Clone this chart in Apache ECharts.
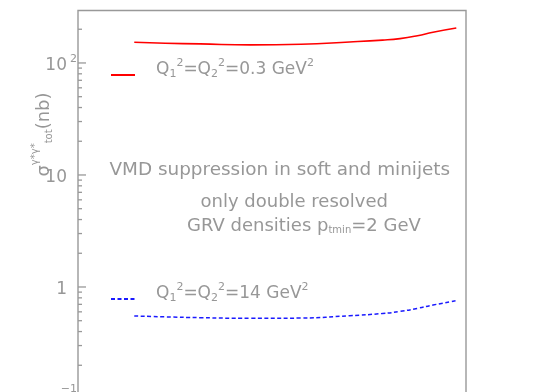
<!DOCTYPE html>
<html>
<head>
<meta charset="utf-8">
<script src="https://cdn.jsdelivr.net/npm/echarts@6/dist/echarts.min.js"></script>
<style>
html,body{margin:0;padding:0;background:#fff;}
#chart{width:545px;height:392px;}
</style>
</head>
<body>
<div id="chart"></div>
<script>
// ---- data ----
const xValues = [29, 45, 63, 89, 115, 140, 157, 166, 175, 183, 195];
const sigmaLowQ = [153, 150, 148, 145, 147, 154, 160, 165, 175, 188, 205];
const sigmaHighQ = [0.551, 0.541, 0.532, 0.525, 0.528, 0.554, 0.580, 0.605, 0.645, 0.690, 0.755];
const seriesNames = ['Q1^2=Q2^2=0.3 GeV^2', 'Q1^2=Q2^2=14 GeV^2'];
const yTickValues = [0.1, 0.2, 0.3, 0.4, 0.5, 0.6, 0.7, 0.8, 0.9,
                     1, 2, 3, 4, 5, 6, 7, 8, 9,
                     10, 20, 30, 40, 50, 60, 70, 80, 90,
                     100, 200];
const yMajorLabels = {'0.1': '{b|10}{sm|−1}', '1': '{b|1}{gap|}', '10': '{b|10}{gap|}', '100': '{b|10}{sp|2}'};
const xMin = 0, xMax = 200, yMin = 0.1, yMax = 294;

const GRAY = '#999999';
const TXT = '#979797';
const FONT = 'DejaVu Sans';

function isPow10(v) {
  const l = Math.log10(v);
  return Math.abs(l - Math.round(l)) < 1e-6;
}
function zip(xs, ys) { return xs.map((x, i) => [x, ys[i]]); }

const legendRich = {
  n: {fontFamily: FONT, fontSize: 17, color: TXT, lineHeight: 17},
  sb: {fontFamily: FONT, fontSize: 11, color: TXT, lineHeight: 11, padding: [8, 0, 0, 0]},
  sp: {fontFamily: FONT, fontSize: 11, color: TXT, lineHeight: 11, padding: [0, 0, 13, 0]}
};
function legendLabel(name) {
  const m = name.match(/^Q1\^2=Q2\^2=(.*) GeV\^2$/);
  return '{n|Q}{sb|1}{sp|2}{n|=Q}{sb|2}{sp|2}{n|=' + m[1] + ' GeV}{sp|2}';
}

const chart = echarts.init(document.getElementById('chart'), null, {renderer: 'canvas'});

const legendCommon = {
  left: 110, padding: 0, itemWidth: 24, itemHeight: 14,
  formatter: legendLabel,
  itemStyle: {opacity: 0},
  textStyle: {padding: [0, 0, 10, 16], rich: legendRich}
};

const option = {
  animation: false,
  backgroundColor: '#fff',
  grid: {left: 78, top: 10.5, right: 79, bottom: -7, show: true, borderColor: GRAY, borderWidth: 1.4,
         containLabel: false, outerBoundsMode: 'none'},
  xAxis: {
    type: 'value', min: xMin, max: xMax,
    axisLine: {show: false}, axisTick: {show: false}, axisLabel: {show: false}, splitLine: {show: false}
  },
  yAxis: {
    type: 'log', min: yMin, max: yMax, logBase: 10, splitNumber: 3,
    axisLine: {show: false}, axisTick: {show: false}, splitLine: {show: false}, minorTick: {show: false},
    axisLabel: {
      show: true, margin: 1, align: 'right', verticalAlign: 'middle',
      showMinLabel: true, showMaxLabel: true,
      formatter: function (v) {
        if (!isPow10(v)) return '';
        const key = String(Math.round(Math.log10(v)) === -1 ? 0.1 : Math.round(v));
        return yMajorLabels[key] || '';
      },
      rich: {
        b: {fontFamily: FONT, fontSize: 17, color: TXT, lineHeight: 17, padding: [6, 0, 0, 0]},
        sp: {fontFamily: FONT, fontSize: 11, color: TXT, lineHeight: 11, padding: [0, 0, 7, 3]},
        sm: {fontFamily: FONT, fontSize: 11, color: TXT, lineHeight: 11, padding: [0, 0, 20, 0]},
        gap: {width: 10}
      }
    }
  },
  legend: [
    Object.assign({data: [seriesNames[0]], top: 58}, legendCommon),
    Object.assign({data: [seriesNames[1]], top: 282}, legendCommon)
  ],
  graphic: [
    {
      type: 'text', x: 44, y: 134.5, rotation: Math.PI / 2,
      style: {
        text: '{s|σ}{sp|γ*γ*}{sb|tot}{n|(nb)}',
        align: 'center', verticalAlign: 'middle',
        rich: {
          s: {fontFamily: FONT, fontSize: 18, fill: TXT, lineHeight: 18},
          sp: {fontFamily: FONT, fontSize: 10, fill: TXT, lineHeight: 10, padding: [0, 0, 17, 0]},
          sb: {fontFamily: FONT, fontSize: 10, fill: TXT, lineHeight: 10, padding: [11, 0, 0, 0]},
          n: {fontFamily: FONT, fontSize: 18, fill: TXT, lineHeight: 18}
        }
      }
    },
    {
      type: 'text', x: 109.5, y: 170,
      style: {text: 'VMD suppression in soft and minijets', font: '18.4px "DejaVu Sans"', fill: TXT, align: 'left', verticalAlign: 'middle'}
    },
    {
      type: 'text', x: 200.5, y: 202,
      style: {text: 'only double resolved', font: '18px "DejaVu Sans"', fill: TXT, align: 'left', verticalAlign: 'middle'}
    },
    {
      type: 'text', x: 187, y: 226.5,
      style: {
        text: '{n|GRV densities p}{sb|tmin}{n|=2 GeV}',
        align: 'left', verticalAlign: 'middle',
        rich: {
          n: {fontFamily: FONT, fontSize: 18, fill: TXT, lineHeight: 18},
          sb: {fontFamily: FONT, fontSize: 10, fill: TXT, lineHeight: 10, padding: [7, 0, 0, 0]}
        }
      }
    }
  ],
  series: [
    {
      name: seriesNames[0], type: 'line', smooth: true, showSymbol: false, symbol: 'none',
      data: zip(xValues, sigmaLowQ),
      lineStyle: {color: '#ff0000', width: 1.6},
      itemStyle: {color: '#ff0000'}
    },
    {
      name: seriesNames[1], type: 'line', smooth: true, showSymbol: false, symbol: 'none',
      data: zip(xValues, sigmaHighQ),
      lineStyle: {color: '#1a1aff', width: 1.5, type: [4, 2.5]},
      itemStyle: {color: '#1a1aff'}
    },
    {
      name: 'yticks', type: 'custom', silent: true, clip: false,
      data: yTickValues.map(v => [xMin, v]),
      encode: {x: 0, y: 1},
      renderItem: function (params, api) {
        const v = api.value(1);
        const p = api.coord([xMin, v]);
        const len = isPow10(v) ? 8 : 4;
        return {
          type: 'line',
          shape: {x1: p[0], y1: p[1], x2: p[0] + len, y2: p[1]},
          style: {stroke: GRAY, lineWidth: 1.3}
        };
      }
    }
  ]
};
chart.setOption(option);
</script>
</body>
</html>
